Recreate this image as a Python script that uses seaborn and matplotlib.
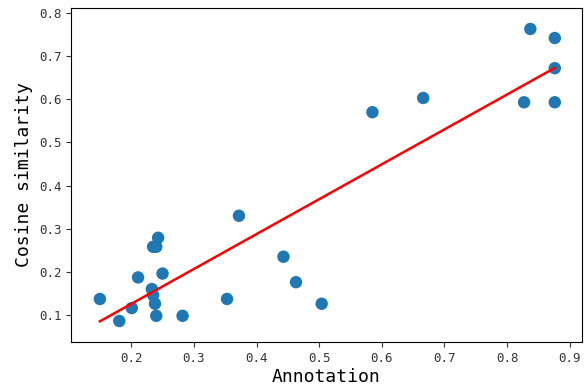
import numpy as np
import pandas as pd
import seaborn as sns
import matplotlib
matplotlib.use("Agg")
import matplotlib.pyplot as plt

annotation = [0.150, 0.181, 0.201, 0.211, 0.233, 0.235, 0.238, 0.240, 0.235, 0.240, 0.243, 0.250,
              0.282, 0.353, 0.372, 0.443, 0.463, 0.504, 0.585, 0.666, 0.827, 0.837, 0.876, 0.876, 0.876]
cosine = [0.137, 0.086, 0.116, 0.187, 0.160, 0.146, 0.126, 0.098, 0.258, 0.258, 0.279, 0.196,
          0.098, 0.137, 0.330, 0.235, 0.176, 0.126, 0.570, 0.603, 0.593, 0.763, 0.742, 0.672, 0.593]

df = pd.DataFrame({"Annotation": annotation, "Cosine similarity": cosine})

plt.rcParams["font.family"] = ["DejaVu Sans Mono", "DejaVu Sans"]

fig, ax = plt.subplots(figsize=(5.87, 3.91), dpi=100)
fig.subplots_adjust(left=0.121, right=0.991, top=0.98, bottom=0.125)

sns.scatterplot(data=df, x="Annotation", y="Cosine similarity", s=80,
                color="#1f77b4", edgecolor="none", ax=ax)
sns.regplot(data=df, x="Annotation", y="Cosine similarity", scatter=False, ci=None,
            truncate=True, line_kws={"color": "red", "lw": 1.8}, ax=ax)

ax.set_xlim(0.104, 0.919)
ax.set_ylim(0.037, 0.812)
ax.set_xticks([0.2, 0.3, 0.4, 0.5, 0.6, 0.7, 0.8, 0.9])
ax.set_yticks([0.1, 0.2, 0.3, 0.4, 0.5, 0.6, 0.7, 0.8])
ax.set_xlabel("Annotation", fontsize=13, labelpad=2)
ax.set_ylabel("Cosine similarity", fontsize=13)
ax.tick_params(labelsize=9, colors="#333333", labelcolor="#333333")

fig.savefig("out.png", dpi=100)
